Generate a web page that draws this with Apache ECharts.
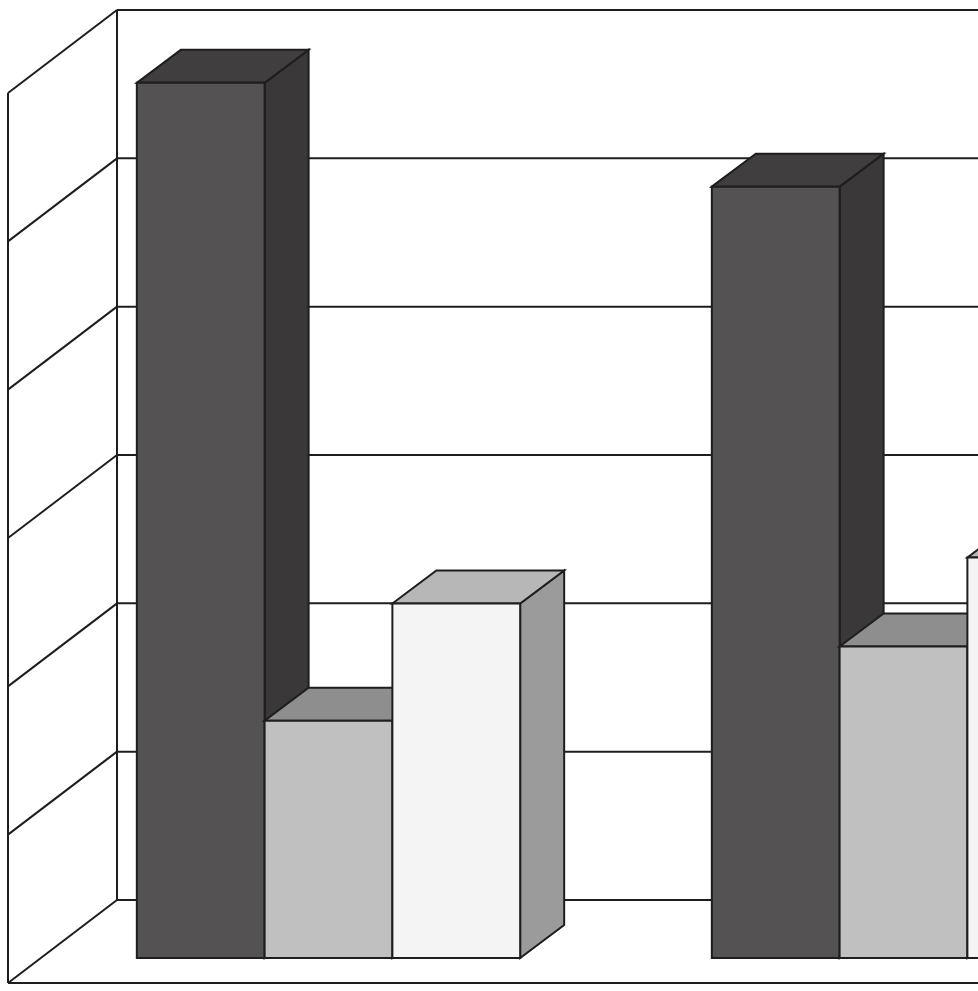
<!DOCTYPE html>
<html>
<head>
<meta charset="utf-8">
<script src="https://cdn.jsdelivr.net/npm/echarts@6/dist/echarts.min.js"></script>
<style>
  html, body { margin: 0; padding: 0; background: #fff; }
  #chart { width: 978px; height: 991px; }
</style>
</head>
<body>
<div id="chart"></div>
<script>
// values (no labels are shown in the reference)
const categories = ['Group 1', 'Group 2']
const darkValues = [5.9, 5.2]
const greyValues = [1.6, 2.1]
const lightValues = [2.39, 2.7]
const yTicks = [0, 1, 2, 3, 4, 5, 6]

const seriesDefs = [
  { name: 'Dark', data: darkValues, front: '#545253', top: '#403e3f', side: '#3a3839' },
  { name: 'Grey', data: greyValues, front: '#c0c0c0', top: '#8f8e8e', side: '#9c9b9b' },
  { name: 'Light', data: lightValues, front: '#f4f4f4', top: '#b7b7b7', side: '#9c9b9b' },
]

// oblique depth of a bar, and of the whole floor box relative to the bars' front plane
const BAR_DX = 44
const BAR_DY = 33
const WALL_FRONT = { dx: -33, dy: 25 }
const WALL_BACK = { dx: 76, dy: -58 }
const STROKE = '#1f1d1e'

const chart = echarts.init(document.getElementById('chart'), null, { renderer: 'canvas' })

const lineStyle = { stroke: STROKE, lineWidth: 2 }

const renderWalls = (params, api) => {
  const cs = params.coordSys
  const farX = cs.x + cs.width + WALL_BACK.dx + 200
  const backX = cs.x + WALL_BACK.dx
  const frontX = cs.x + WALL_FRONT.dx
  const children = []
  const yTop = api.coord([0, yTicks[yTicks.length - 1]])[1]
  const yBottom = api.coord([0, yTicks[0]])[1]

  yTicks.forEach((v) => {
    const y = api.coord([0, v])[1]
    // back wall gridline
    children.push({
      type: 'line',
      shape: { x1: backX, y1: y + WALL_BACK.dy, x2: farX, y2: y + WALL_BACK.dy },
      style: lineStyle,
    })
    // side wall line
    children.push({
      type: 'line',
      shape: { x1: frontX, y1: y + WALL_FRONT.dy, x2: backX, y2: y + WALL_BACK.dy },
      style: lineStyle,
    })
  })
  // vertical edges
  children.push({
    type: 'line',
    shape: { x1: backX, y1: yTop + WALL_BACK.dy, x2: backX, y2: yBottom + WALL_BACK.dy },
    style: lineStyle,
  })
  children.push({
    type: 'line',
    shape: { x1: frontX, y1: yTop + WALL_FRONT.dy, x2: frontX, y2: yBottom + WALL_FRONT.dy },
    style: lineStyle,
  })
  // front floor edge
  children.push({
    type: 'line',
    shape: { x1: frontX, y1: yBottom + WALL_FRONT.dy, x2: farX, y2: yBottom + WALL_FRONT.dy },
    style: lineStyle,
  })
  return { type: 'group', children }
}

const makeBarRenderer = (index, def) => (params, api) => {
  const cat = api.value(0)
  const val = api.value(1)
  const base = api.coord([cat, 0])
  const topPt = api.coord([cat, val])
  const barW = api.size([1, 0])[0] / 4.5
  const l = base[0] - 1.5 * barW + index * barW
  const r = l + barW
  const t = topPt[1]
  const b = base[1]
  const style = (fill) => ({ fill, stroke: STROKE, lineWidth: 2, lineJoin: 'miter' })
  return {
    type: 'group',
    children: [
      {
        type: 'polygon',
        shape: { points: [[r, t], [r + BAR_DX, t - BAR_DY], [r + BAR_DX, b - BAR_DY], [r, b]] },
        style: style(def.side),
      },
      {
        type: 'polygon',
        shape: { points: [[l, t], [l + BAR_DX, t - BAR_DY], [r + BAR_DX, t - BAR_DY], [r, t]] },
        style: style(def.top),
      },
      {
        type: 'rect',
        shape: { x: l, y: t, width: barW, height: b - t },
        style: style(def.front),
      },
    ],
  }
}

const option = {
  animation: false,
  backgroundColor: '#ffffff',
  grid: { left: 41, top: 68, width: 1150, height: 890, outerBoundsMode: 'none', containLabel: false },
  xAxis: {
    type: 'category',
    data: categories,
    boundaryGap: true,
    show: false,
  },
  yAxis: {
    type: 'value',
    min: 0,
    max: 6,
    interval: 1,
    show: false,
  },
  series: [
    {
      type: 'custom',
      name: 'walls',
      renderItem: renderWalls,
      data: [[0, 0]],
      silent: true,
      z: 1,
    },
    ...seriesDefs.map((def, i) => ({
      type: 'custom',
      name: def.name,
      renderItem: makeBarRenderer(i, def),
      data: def.data.map((v, c) => [c, v]),
      z: 2 + i,
    })),
  ],
}

chart.setOption(option)
</script>
</body>
</html>
